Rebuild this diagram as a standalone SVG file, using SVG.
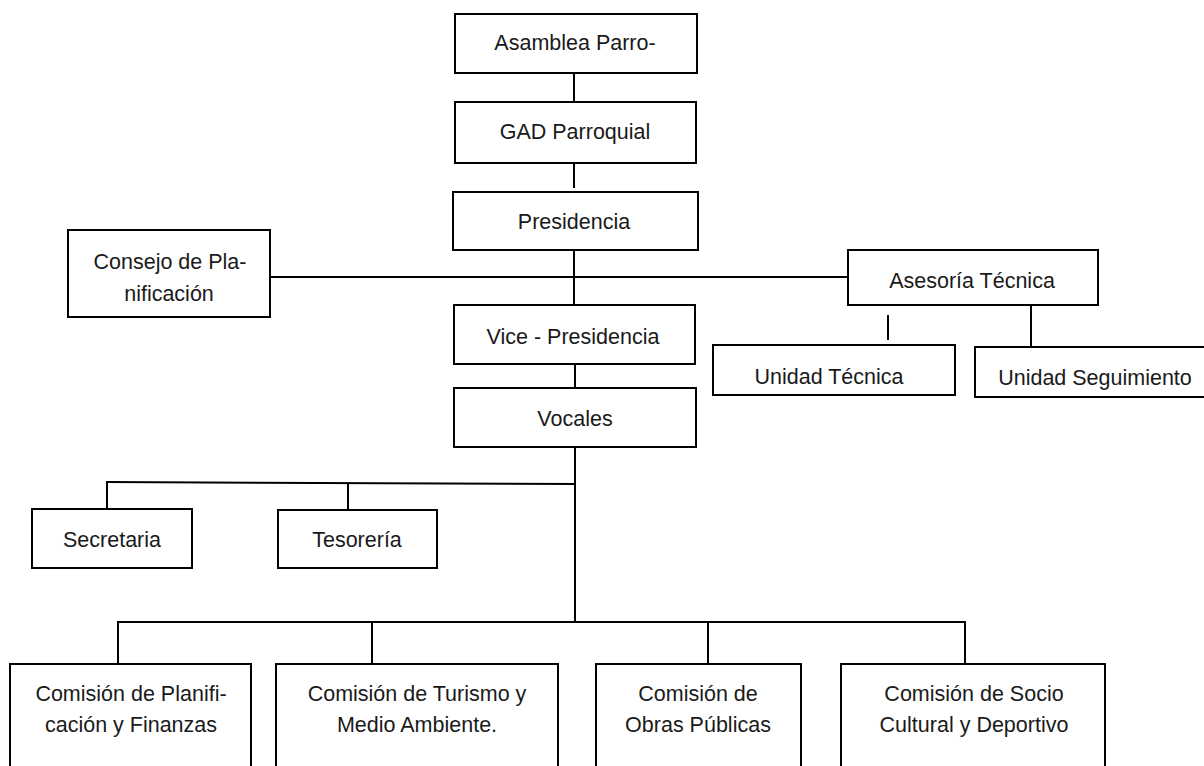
<svg xmlns="http://www.w3.org/2000/svg" width="1204" height="766" viewBox="0 0 1204 766">
<style>
  .box { fill: #ffffff; stroke: #000000; stroke-width: 2; }
  .lbl { font-family: "Liberation Sans", "DejaVu Sans", sans-serif; font-size: 21.5px; fill: #1a1a1a; text-anchor: middle; }
  .conn { stroke: #000000; stroke-width: 2; fill: none; }
</style>
<rect width="1204" height="766" fill="#ffffff"/>
<g id="connectors">
  <line class="conn" x1="574" y1="73" x2="574" y2="102"/>
  <line class="conn" x1="574" y1="163" x2="574" y2="188"/>
  <line class="conn" x1="574" y1="250" x2="574" y2="305"/>
  <line class="conn" x1="270" y1="277" x2="848" y2="277"/>
  <line class="conn" x1="575" y1="364" x2="575" y2="388"/>
  <line class="conn" x1="575" y1="447" x2="575" y2="623"/>
  <line class="conn" x1="106" y1="482" x2="575" y2="484"/>
  <line class="conn" x1="107" y1="482" x2="107" y2="509"/>
  <line class="conn" x1="348" y1="483" x2="348" y2="510"/>
  <line class="conn" x1="888" y1="315" x2="888" y2="340"/>
  <line class="conn" x1="1031" y1="305" x2="1031" y2="347"/>
  <line class="conn" x1="117" y1="622" x2="966" y2="622"/>
  <line class="conn" x1="118" y1="622" x2="118" y2="664"/>
  <line class="conn" x1="372" y1="622" x2="372" y2="664"/>
  <line class="conn" x1="708" y1="622" x2="708" y2="664"/>
  <line class="conn" x1="965" y1="622" x2="965" y2="664"/>
</g>
<g id="asamblea">
  <rect class="box" x="455" y="14" width="242" height="59"/>
  <text class="lbl" x="575" y="50">Asamblea Parro-</text>
</g>
<g id="gad">
  <rect class="box" x="455" y="102" width="241" height="61"/>
  <text class="lbl" x="575" y="139">GAD Parroquial</text>
</g>
<g id="presidencia">
  <rect class="box" x="453" y="192" width="245" height="58"/>
  <text class="lbl" x="574" y="229">Presidencia</text>
</g>
<g id="consejo">
  <rect class="box" x="68" y="230" width="202" height="87"/>
  <text class="lbl" x="170" y="269">Consejo de Pla-</text>
  <text class="lbl" x="169" y="301">nificación</text>
</g>
<g id="asesoria">
  <rect class="box" x="848" y="250" width="250" height="55"/>
  <text class="lbl" x="972" y="288">Asesoría Técnica</text>
</g>
<g id="unidad-tecnica">
  <rect class="box" x="713" y="345" width="242" height="50"/>
  <text class="lbl" x="829" y="384">Unidad Técnica</text>
</g>
<g id="unidad-seguimiento">
  <rect class="box" x="975" y="347" width="240" height="50"/>
  <text class="lbl" x="1095" y="385">Unidad Seguimiento</text>
</g>
<g id="vicepresidencia">
  <rect class="box" x="454" y="305" width="241" height="59"/>
  <text class="lbl" x="573" y="344">Vice - Presidencia</text>
</g>
<g id="vocales">
  <rect class="box" x="454" y="388" width="242" height="59"/>
  <text class="lbl" x="575" y="426">Vocales</text>
</g>
<g id="secretaria">
  <rect class="box" x="32" y="509" width="160" height="59"/>
  <text class="lbl" x="112" y="547">Secretaria</text>
</g>
<g id="tesoreria">
  <rect class="box" x="278" y="510" width="159" height="58"/>
  <text class="lbl" x="357" y="547">Tesorería</text>
</g>
<g id="comision-planificacion">
  <rect class="box" x="10" y="664" width="241" height="120"/>
  <text class="lbl" x="131" y="701">Comisión de Planifi-</text>
  <text class="lbl" x="131" y="732">cación y Finanzas</text>
</g>
<g id="comision-turismo">
  <rect class="box" x="276" y="664" width="282" height="120"/>
  <text class="lbl" x="417" y="701">Comisión de Turismo y</text>
  <text class="lbl" x="417" y="732">Medio Ambiente.</text>
</g>
<g id="comision-obras">
  <rect class="box" x="596" y="664" width="205" height="120"/>
  <text class="lbl" x="698" y="701">Comisión de</text>
  <text class="lbl" x="698" y="732">Obras Públicas</text>
</g>
<g id="comision-socio">
  <rect class="box" x="841" y="664" width="264" height="120"/>
  <text class="lbl" x="974" y="701">Comisión de Socio</text>
  <text class="lbl" x="974" y="732">Cultural y Deportivo</text>
</g>
</svg>
